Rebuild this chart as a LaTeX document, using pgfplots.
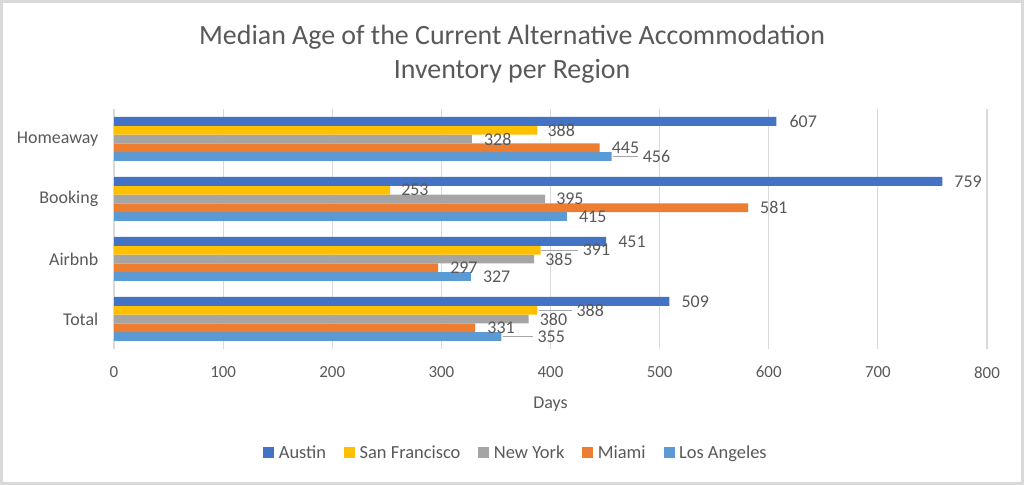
\documentclass[border=0pt]{standalone}
\usepackage{pgfplots}
\pgfplotsset{compat=1.18}
\usepackage{fontspec}
\setmainfont{Carlito}
\definecolor{cAus}{HTML}{4472C4}
\definecolor{cSF}{HTML}{FFC000}
\definecolor{cNY}{HTML}{A5A5A5}
\definecolor{cMia}{HTML}{ED7D31}
\definecolor{cLA}{HTML}{5B9BD5}
\definecolor{labgray}{HTML}{595959}
\definecolor{gridgray}{HTML}{D9D9D9}
\definecolor{leadgray}{HTML}{A6A6A6}
% columns: value, category position, label shift (bp), leader line length (bp)
\pgfplotstableread{
x y dx lead
355 0 36 30
327 1 12 0
415 2 12 0
456 3 31 25
}\tLA
\pgfplotstableread{
x y dx lead
331 0 12 0
297 1 12 0
581 2 12 0
445 3 12 0
}\tMia
\pgfplotstableread{
x y dx lead
380 0 11 0
385 1 11 0
395 2 11 0
328 3 12 0
}\tNY
\pgfplotstableread{
x y dx lead
388 0 39 33
391 1 42 37
253 2 11 0
388 3 10 0
}\tSF
\pgfplotstableread{
x y dx lead
509 0 12 0
451 1 12 0
759 2 12 0
607 3 13 0
}\tAus
\begin{document}
\begin{tikzpicture}[x=1bp,y=1bp]
\fill[white] (0,0) rectangle (1024,485);
\draw[gridgray, line width=3bp] (1.5,1.5) rectangle (1022.5,483.5);
\node[text=labgray, font=\fontsize{28}{32}\selectfont] at (512,448) {Median Age of the Current Alternative Accommodation};
\node[text=labgray, font=\fontsize{28}{32}\selectfont] at (512,414) {Inventory per Region};
\begin{axis}[
  at={(114bp,136bp)}, anchor=south west,
  width=873bp, height=240bp, scale only axis,
  xbar=0pt, bar width=8.8bp,
  xmin=0, xmax=800, ymin=-0.5, ymax=3.5,
  xtick={0,100,...,800},
  ytick={0,1,2,3}, yticklabels={Total,Airbnb,Booking,Homeaway},
  /pgf/number format/assume math mode=true,
  xmajorgrids, major grid style={draw=gridgray, line width=1.2bp},
  axis line style={draw=none},
  tick style={draw=none},
  tick label style={font=\fontsize{17}{20}\selectfont, text=labgray},
  yticklabel style={font=\fontsize{18}{20}\selectfont, xshift=-8bp},
  xticklabel style={yshift=-14bp},
  xlabel={Days},
  xlabel style={font=\fontsize{18}{20}\selectfont, text=labgray, yshift=-12bp},
  visualization depends on={\thisrow{dx} \as \dx},
  visualization depends on={\thisrow{lead} \as \lead},
  nodes near coords={\llap{\textcolor{leadgray}{\rule[5.2bp]{\lead bp}{1bp}}\hspace{5bp}}\pgfmathprintnumber[assume math mode=true]{\pgfplotspointmeta}},
  nodes near coords align={horizontal},
  every node near coord/.append style={font=\fontsize{18}{20}\selectfont, text=labgray, inner sep=0pt, anchor=west, xshift=\dx bp},
  legend columns=5,
  reverse legend,
  legend style={at={(0.4605,-0.433)}, anchor=center, draw=none, fill=none,
    font=\fontsize{18.5}{21}\selectfont, text=labgray,
    nodes={inner sep=2bp},
    /tikz/every even column/.append style={column sep=16bp}},
  legend image code/.code={\fill[#1] (0bp,-5.5bp) rectangle (11bp,5.5bp); \path (13.5bp,0);},
]
\addplot[draw=none, fill=cLA] table[x=x, y=y] {\tLA};
\addplot[draw=none, fill=cMia] table[x=x, y=y] {\tMia};
\addplot[draw=none, fill=cNY] table[x=x, y=y] {\tNY};
\addplot[draw=none, fill=cSF] table[x=x, y=y] {\tSF};
\addplot[draw=none, fill=cAus] table[x=x, y=y] {\tAus};
\legend{Los Angeles, Miami, New York, San Francisco, Austin}
\end{axis}
\pgfresetboundingbox
\path[use as bounding box] (0,0) rectangle (1024,485);
\end{tikzpicture}
\end{document}
